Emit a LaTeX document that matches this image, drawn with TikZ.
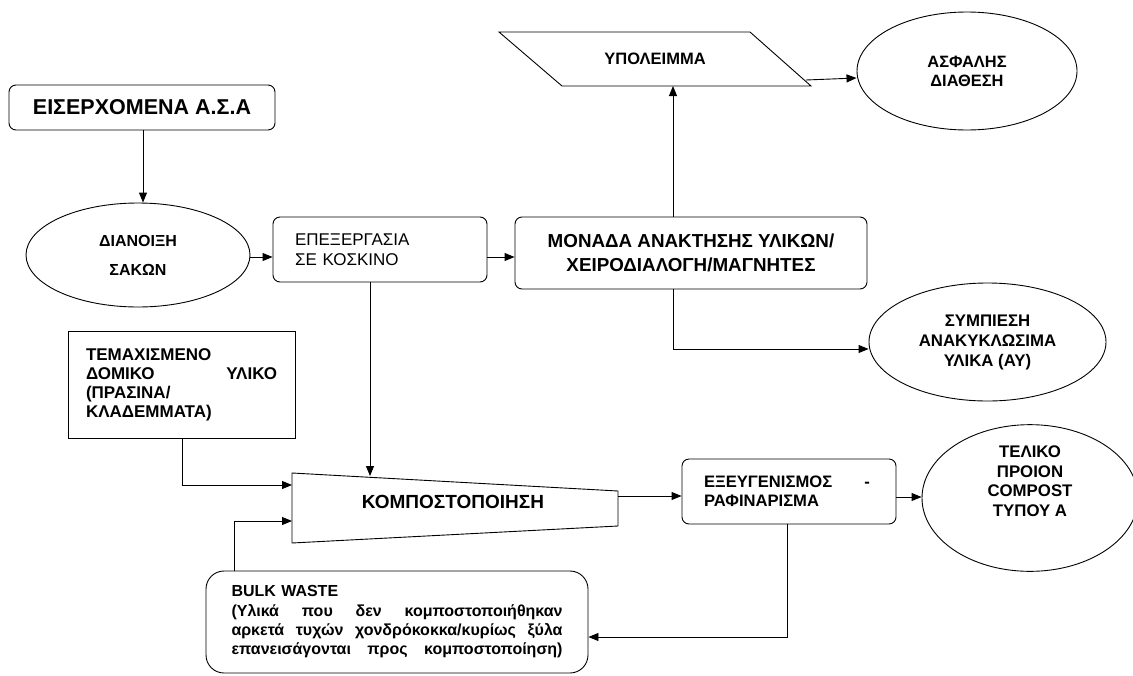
\documentclass[tikz,border=0pt]{standalone}
\usepackage{fontspec}
\setmainfont{Liberation Sans}
\usetikzlibrary{shapes.geometric,arrows.meta,calc}
\newcommand\jline[1]{\makebox[\linewidth]{#1}}
\begin{document}
\begin{tikzpicture}[x=1pt,y=-1pt,line width=0.9pt,
  arr/.style={-{Triangle[length=10pt,width=8pt]}},
  rbox/.style={draw,rounded corners=7pt,inner ysep=0pt},
  ell/.style={draw,ellipse,inner sep=0pt},
  sqbox/.style={draw,inner ysep=0pt}]
\useasboundingbox (0,0) rectangle (1133,675);

% nodes
\node[rbox,minimum width=266pt,minimum height=45pt,font={\bfseries\fontsize{21.5}{24}\selectfont}] (asa) at (142,107.5) {ΕΙΣΕΡΧΟΜΕΝΑ Α.Σ.Α};
\node[ell,minimum width=224pt,minimum height=104pt,align=center,font={\bfseries\fontsize{16}{29}\selectfont}] (dian) at (138,255) {ΔΙΑΝΟΙΞΗ\\ΣΑΚΩΝ};
\node[rbox,minimum width=214pt,minimum height=65pt,inner xsep=22pt,text width=170pt,align=left,font={\fontsize{17}{20}\selectfont}] (epex) at (380,249.5) {ΕΠΕΞΕΡΓΑΣΙΑ\\ΣΕ ΚΟΣΚΙΝΟ};
\node[rbox,minimum width=352pt,minimum height=72pt,align=center,font={\bfseries\fontsize{18.8}{24}\selectfont}] (monada) at (691,253) {ΜΟΝΑΔΑ ΑΝΑΚΤΗΣΗΣ ΥΛΙΚΩΝ/\\ΧΕΙΡΟΔΙΑΛΟΓΗ/ΜΑΓΝΗΤΕΣ};

% parallelogram
\coordinate (pTL) at (499,32);
\coordinate (pTR) at (750,32);
\coordinate (pBR) at (811,86);
\coordinate (pBL) at (562,86);
\draw (pTL) -- (pTR) -- (pBR) -- (pBL) -- cycle;
\node[font={\bfseries\fontsize{16.5}{20}\selectfont}] (ypol) at (655,59) {ΥΠΟΛΕΙΜΜΑ};
\coordinate (ypolB) at (673,86);
\coordinate (ypolR) at (806,80);

\node[ell,minimum width=220pt,minimum height=118pt,align=center,font={\bfseries\fontsize{16.4}{19}\selectfont}] (asf) at (967,71) {ΑΣΦΑΛΗΣ\\ΔΙΑΘΕΣΗ};
\node[ell,minimum width=237pt,minimum height=118pt,align=center,font={\bfseries\fontsize{16.8}{20}\selectfont}] (symp) at (987.5,342) {ΣΥΜΠΙΕΣΗ\\ΑΝΑΚΥΚΛΩΣΙΜΑ\\ΥΛΙΚΑ (ΑΥ)};

\node[sqbox,minimum width=227pt,minimum height=107pt,inner xsep=18pt,text width=191pt,align=left,font={\bfseries\fontsize{17}{19}\selectfont}] (tem) at (181.5,384.5) {ΤΕΜΑΧΙΣΜΕΝΟ\\\jline{ΔΟΜΙΚΟ\hfill ΥΛΙΚΟ}\\(ΠΡΑΣΙΝΑ/\\ΚΛΑΔΕΜΜΑΤΑ)};

% trapezoid
\coordinate (kTL) at (292,473);
\coordinate (kTR) at (618,491);
\coordinate (kBR) at (618,526);
\coordinate (kBL) at (292,543);
\draw (kTL) -- (kTR) -- (kBR) -- (kBL) -- cycle;
\node[font={\bfseries\fontsize{19}{22}\selectfont}] (komp) at (453,502) {ΚΟΜΠΟΣΤΟΠΟΙΗΣΗ};
\coordinate (kIn1) at (292,485);
\coordinate (kIn2) at (292,521);
\coordinate (kTop) at (370,476);
\coordinate (kOut) at (618,496);

\node[rbox,minimum width=214pt,minimum height=65pt,inner xsep=22pt,text width=170pt,align=left,font={\bfseries\fontsize{16.6}{19}\selectfont}] (exeug) at (789,491.5) {\jline{ΕΞΕΥΓΕΝΙΣΜΟΣ\hfill -\hspace*{4pt}}\\ΡΑΦΙΝΑΡΙΣΜΑ};
\node[ell,minimum width=216pt,minimum height=146pt,align=center,font={\bfseries\fontsize{16.8}{19.5}\selectfont}] (telik) at (1030,498) {ΤΕΛΙΚΟ\\ΠΡΟΙΟΝ\\COMPOST\\ΤΥΠΟΥ Α\\[14pt]};

\node[rbox,rounded corners=18pt,minimum width=382pt,minimum height=102pt,inner xsep=25.5pt,text width=331pt,align=left,font={\bfseries\fontsize{16}{19.3}\selectfont}] (bulk) at (397,622) {BULK WASTE\\\jline{(Υλικά \hfill που \hfill δεν \hfill κομποστοποιήθηκαν}\\\jline{αρκετά \hfill τυχών \hfill χονδρόκοκκα/κυρίως \hfill ξύλα}\\\jline{επανεισάγονται \hfill προς \hfill κομποστοποίηση)}};

% connectors
\draw[arr] (asa.south -| 143,0) -- (dian.north -| 143,0);
\draw[arr] ($(dian.east)+(0,2)$) -- ($(dian.east -| epex.west)+(0,2)$);
\draw[arr] ($(epex.east)+(0,7.5)$) -- ($(epex.east -| monada.west)+(0,7.5)$);
\draw[arr] (monada.north -| ypolB) -- (ypolB);
\draw[arr] (ypolR) -- ($(asf.west)+(0,7)$);
\draw[arr] (monada.south -| ypolB) |- ($(symp.west)+(0,7)$);
\draw[arr] (epex.south -| kTop) -- (kTop);
\draw[arr] (tem.south -| 182,0) |- (kIn1);
\draw[arr] (bulk.north -| 234,0) |- (kIn2);
\draw[arr] (kOut) -- (kOut -| exeug.west);
\draw[arr] (exeug.east |- 0,497) -- (telik.west |- 0,497);
\draw[arr] (exeug.south -| 787,0) |- (bulk.east |- 0,637);
\end{tikzpicture}
\end{document}
